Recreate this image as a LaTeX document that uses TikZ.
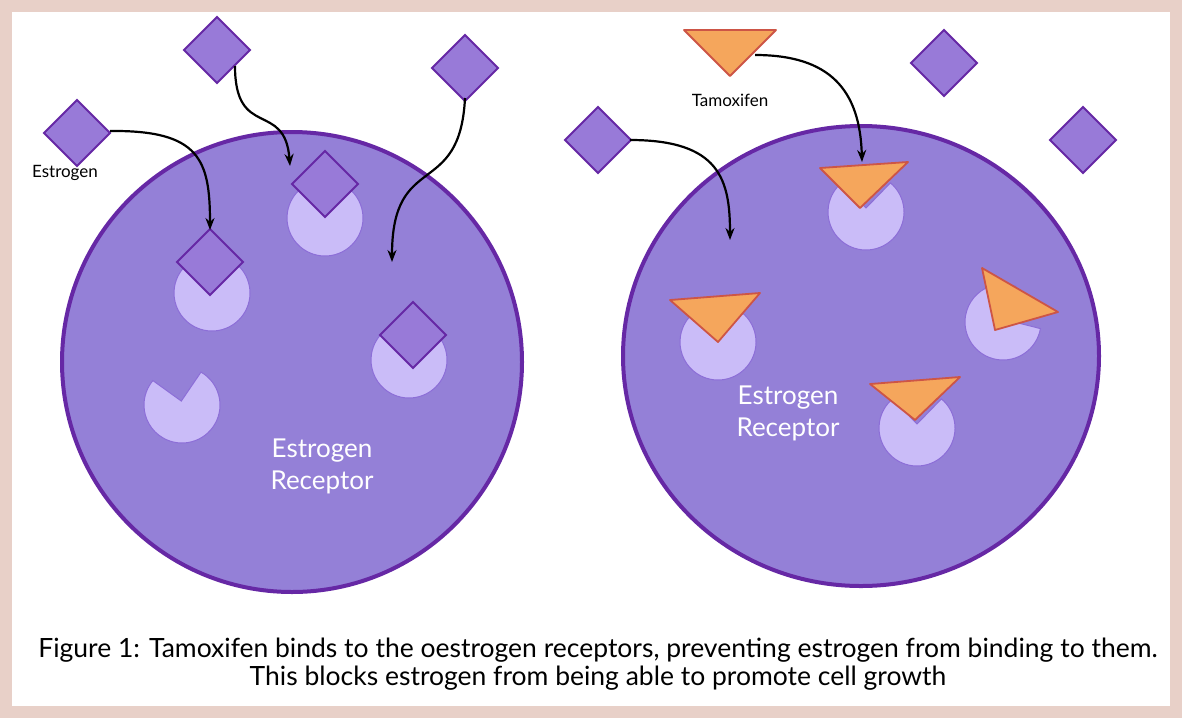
\documentclass[tikz,border=0pt]{standalone}
\usepackage{fontspec}
\setmainfont{Lato}
\usetikzlibrary{arrows.meta,shapes.geometric,calc}
\definecolor{frame}{RGB}{232,208,200}
\definecolor{cellf}{RGB}{148,128,215}
\definecolor{celld}{RGB}{102,40,165}
\definecolor{recf}{RGB}{202,188,248}
\definecolor{recd}{RGB}{140,110,215}
\definecolor{ligf}{RGB}{152,122,216}
\definecolor{tamf}{RGB}{245,166,92}
\definecolor{tamd}{RGB}{205,85,70}
\begin{document}
\begin{tikzpicture}[x=1pt,y=-1pt,
 cell/.style={fill=cellf,draw=celld,line width=4pt},
 rec/.style={fill=recf,draw=recd,line width=1pt},
 lig/.style={fill=ligf,draw=celld,line width=2pt,line join=miter},
 tam/.style={fill=tamf,draw=tamd,line width=1.8pt,line join=round},
 arr/.style={-{Stealth[length=12pt,width=9pt]},line width=2.2pt,black},
 lab/.style={font=\fontsize{17}{20}\selectfont},
 big/.style={white,align=center,font=\fontsize{26}{32}\selectfont}]
\fill[frame] (0,0) rectangle (1182,718);
\fill[white] (12,12) rectangle (1170,706);
\node[cell,circle,minimum size=460pt,inner sep=0] (c1) at (292,362) {};
\node[cell,ellipse,minimum width=476pt,minimum height=460pt,inner sep=0] (c2) at (861,356) {};
% receptors: gap centred on angle \g (y downwards)
\foreach \x/\y/\g in {325/218/270,212/293/270,409/360/270,182/405/260,866/212/270,718/342/270,1003/322/330,917/428/270}{
 \filldraw[rec] (\x,\y) ++(\g+40:38) arc (\g+40:\g+320:38) -- ($(\x,\y)+(\g:4)$) -- cycle;}
% diamonds
\foreach \n/\x/\y in {d1/77/133,d2/217/50,d3/465/68,d4/325/184,d5/210/262,d6/413/335,d7/598/140,d8/944/63,d9/1083/140}{
 \filldraw[lig] (\x-33,\y) -- (\x,\y-33) -- (\x+33,\y) -- (\x,\y+33) -- cycle;
 \coordinate (\n) at (\x,\y);}
% triangles
\filldraw[tam] (684,30) -- (776,30) -- (730,76) -- cycle; \coordinate (t0) at (730,45);
\filldraw[tam] (820,168) -- (908,162) -- (860,208) -- cycle;
\filldraw[tam] (670,300) -- (760,293) -- (718,342) -- cycle;
\filldraw[tam] (870,384) -- (960,377) -- (915,420) -- cycle;
\filldraw[tam] (982,268) -- (1058,312) -- (995,330) -- cycle;
% arrows
\coordinate (a1) at (210,230); \coordinate (a2) at (290,166);
\coordinate (a3) at (392,262); \coordinate (a4) at (730,240);
\coordinate (a5) at (862,162);
\draw[arr] (110,131) .. controls (200,130) and (210,160) .. (a1);
\draw[arr] (235,66) .. controls (235,140) and (285,100) .. (a2);
\draw[arr] (465,98) .. controls (460,200) and (392,150) .. (a3);
\draw[arr] (630,140) .. controls (720,140) and (730,180) .. (a4);
\draw[arr] (755,55) .. controls (830,55) and (860,90) .. (a5);
% labels
\node[lab] (l1) at (65,173) {Estrogen};
\node[lab] (l2) at (730,100) {Tamoxifen};
\node[big] (r1) at (322,466) {Estrogen\\Receptor};
\node[big] (r2) at (788,413) {Estrogen\\Receptor};
\node[align=center,font=\fontsize{26.5}{28}\selectfont] (cap) at (598,664) {Figure 1: Tamoxifen binds to the oestrogen receptors, preventing estrogen from binding to them.\\This blocks estrogen from being able to promote cell growth};
\end{tikzpicture}
\end{document}
